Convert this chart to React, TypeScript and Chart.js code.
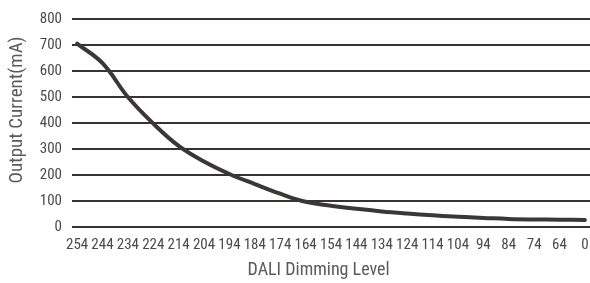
import React, { useEffect, useRef } from "react";
import { Chart, registerables } from "chart.js";

Chart.register(...registerables);

const levelLabels = ["254", "244", "234", "224", "214", "204", "194", "184", "174", "164", "154", "144", "134", "124", "114", "104", "94", "84", "74", "64", "0"];
const currentValues = [705, 630, 500, 398, 312, 252, 204, 165, 128, 97, 82, 70, 60, 52, 45, 39, 35, 31, 29, 28, 27];
const yTicks = [0, 100, 200, 300, 400, 500, 600, 700, 800];

const FONT = "'Liberation Sans Narrow', 'Roboto Condensed', 'DejaVu Sans Condensed', Roboto, sans-serif";

export default function App() {
  const ref = useRef<HTMLCanvasElement | null>(null);

  useEffect(() => {
    if (!ref.current) return;
    const chart = new Chart(ref.current, {
      type: "line",
      data: {
        datasets: [
          {
            data: currentValues.map((v, i) => ({ x: i, y: v })),
            borderColor: "#3b3737",
            borderWidth: 4,
            pointRadius: 0,
            tension: 0.4,
            borderCapStyle: "round",
            fill: false,
          },
        ],
      },
      options: {
        animation: false,
        responsive: true,
        maintainAspectRatio: false,
        layout: { padding: { top: 10, right: 0, left: 0, bottom: 0 } },
        plugins: { legend: { display: false }, tooltip: { enabled: false } },
        scales: {
          x: {
            type: "linear",
            min: -0.2,
            max: levelLabels.length - 0.8,
            grid: { display: false, drawTicks: false },
            border: { display: false },
            afterBuildTicks: (axis: any) => {
              axis.ticks = levelLabels.map((_, i) => ({ value: i }));
            },
            afterFit: (scale: any) => {
              scale.height = 56;
              scale.paddingLeft = 0;
              scale.paddingRight = 0;
            },
            ticks: {
              autoSkip: false,
              maxRotation: 0,
              padding: 9,
              color: "#4a4a4a",
              font: { family: FONT, size: 15 },
              callback: (v: any) => {
                const i = Math.round(Number(v));
                return Math.abs(Number(v) - i) < 1e-6 && levelLabels[i] !== undefined ? levelLabels[i] : "";
              },
            },
            title: {
              display: true,
              text: "DALI Dimming Level      ",
              color: "#5a5a5a",
              font: { family: FONT, size: 18 },
              padding: { top: 0, bottom: 2 },
            },
          },
          y: {
            min: 0,
            max: 800,
            afterBuildTicks: (axis: any) => {
              axis.ticks = yTicks.map((v) => ({ value: v }));
            },
            afterFit: (scale: any) => {
              scale.width = 72;
            },
            grid: { color: "#3a3131", lineWidth: 2, drawTicks: false },
            border: { display: false },
            ticks: {
              padding: 10,
              color: "#4a4a4a",
              font: { family: FONT, size: 15 },
            },
            title: {
              display: true,
              text: "      Output Current(mA)",
              color: "#5a5a5a",
              font: { family: FONT, size: 19 },
              padding: { top: 6, bottom: 0 },
            },
          },
        },
      },
    });
    return () => chart.destroy();
  }, []);

  return (
    <div style={{ position: "absolute", left: 0, top: 0, width: 590, height: 283, background: "#fff" }}>
      <canvas ref={ref} />
    </div>
  );
}
